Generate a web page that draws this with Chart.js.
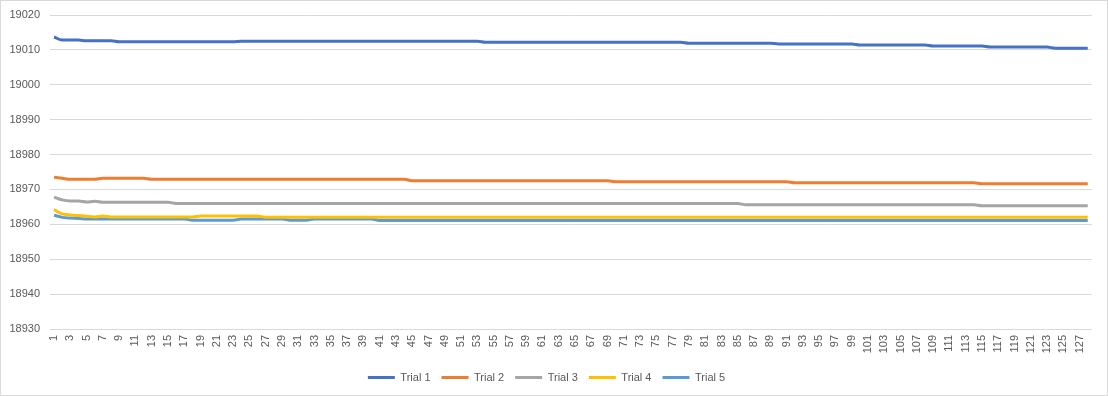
<!DOCTYPE html>
<html>
<head>
<meta charset="utf-8">
<script src="https://cdn.jsdelivr.net/npm/chart.js@4/dist/chart.umd.min.js"></script>
<style>
    html, body { margin: 0; padding: 0; background: #fff; }
    .chart-box { width: 1106px; height: 394px; border: 1px solid #D9D9D9; }
</style>
</head>
<body>
<div class="chart-box"><canvas id="trialChart" width="1106" height="394"></canvas></div>
<script>
"use strict";

// run numbers 1..128 on the x axis
const runs = Array.from({ length: 128 }, (_, i) => String(i + 1));

const trial1 = [
    19013.7, 19012.8, 19012.8, 19012.8, 19012.6, 19012.6, 19012.6, 19012.6, 19012.3, 19012.3, 19012.3, 19012.3, 19012.3, 19012.3, 19012.3, 19012.3,
    19012.3, 19012.3, 19012.3, 19012.3, 19012.3, 19012.3, 19012.3, 19012.5, 19012.5, 19012.5, 19012.5, 19012.5, 19012.5, 19012.5, 19012.5, 19012.5,
    19012.5, 19012.5, 19012.5, 19012.5, 19012.5, 19012.5, 19012.5, 19012.5, 19012.5, 19012.5, 19012.5, 19012.5, 19012.5, 19012.5, 19012.5, 19012.5,
    19012.5, 19012.5, 19012.5, 19012.5, 19012.5, 19012.2, 19012.2, 19012.2, 19012.2, 19012.2, 19012.2, 19012.2, 19012.2, 19012.2, 19012.2, 19012.2,
    19012.2, 19012.2, 19012.2, 19012.2, 19012.2, 19012.2, 19012.2, 19012.2, 19012.2, 19012.2, 19012.2, 19012.2, 19012.2, 19012.2, 19011.9, 19011.9,
    19011.9, 19011.9, 19011.9, 19011.9, 19011.9, 19011.9, 19011.9, 19011.9, 19011.9, 19011.7, 19011.7, 19011.7, 19011.7, 19011.7, 19011.7, 19011.7,
    19011.7, 19011.7, 19011.7, 19011.4, 19011.4, 19011.4, 19011.4, 19011.4, 19011.4, 19011.4, 19011.4, 19011.4, 19011.1, 19011.1, 19011.1, 19011.1,
    19011.1, 19011.1, 19011.1, 19010.8, 19010.8, 19010.8, 19010.8, 19010.8, 19010.8, 19010.8, 19010.8, 19010.5, 19010.5, 19010.5, 19010.5, 19010.5
];

const trial2 = [
    18973.5, 18973.2, 18972.9, 18972.9, 18972.9, 18972.9, 18973.2, 18973.2, 18973.2, 18973.2, 18973.2, 18973.2, 18972.9, 18972.9, 18972.9, 18972.9,
    18972.9, 18972.9, 18972.9, 18972.9, 18972.9, 18972.9, 18972.9, 18972.9, 18972.9, 18972.9, 18972.9, 18972.9, 18972.9, 18972.9, 18972.9, 18972.9,
    18972.9, 18972.9, 18972.9, 18972.9, 18972.9, 18972.9, 18972.9, 18972.9, 18972.9, 18972.9, 18972.9, 18972.9, 18972.5, 18972.5, 18972.5, 18972.5,
    18972.5, 18972.5, 18972.5, 18972.5, 18972.5, 18972.5, 18972.5, 18972.5, 18972.5, 18972.5, 18972.5, 18972.5, 18972.5, 18972.5, 18972.5, 18972.5,
    18972.5, 18972.5, 18972.5, 18972.5, 18972.5, 18972.2, 18972.2, 18972.2, 18972.2, 18972.2, 18972.2, 18972.2, 18972.2, 18972.2, 18972.2, 18972.2,
    18972.2, 18972.2, 18972.2, 18972.2, 18972.2, 18972.2, 18972.2, 18972.2, 18972.2, 18972.2, 18972.2, 18971.9, 18971.9, 18971.9, 18971.9, 18971.9,
    18971.9, 18971.9, 18971.9, 18971.9, 18971.9, 18971.9, 18971.9, 18971.9, 18971.9, 18971.9, 18971.9, 18971.9, 18971.9, 18971.9, 18971.9, 18971.9,
    18971.9, 18971.9, 18971.6, 18971.6, 18971.6, 18971.6, 18971.6, 18971.6, 18971.6, 18971.6, 18971.6, 18971.6, 18971.6, 18971.6, 18971.6, 18971.6
];

const trial3 = [
    18967.8, 18967.0, 18966.7, 18966.7, 18966.4, 18966.6, 18966.3, 18966.3, 18966.3, 18966.3, 18966.3, 18966.3, 18966.3, 18966.3, 18966.3, 18966.0,
    18966.0, 18966.0, 18966.0, 18966.0, 18966.0, 18966.0, 18966.0, 18966.0, 18966.0, 18966.0, 18966.0, 18966.0, 18966.0, 18966.0, 18966.0, 18966.0,
    18966.0, 18966.0, 18966.0, 18966.0, 18966.0, 18966.0, 18966.0, 18966.0, 18966.0, 18966.0, 18966.0, 18966.0, 18966.0, 18966.0, 18966.0, 18966.0,
    18966.0, 18966.0, 18966.0, 18966.0, 18966.0, 18966.0, 18966.0, 18966.0, 18966.0, 18966.0, 18966.0, 18966.0, 18966.0, 18966.0, 18966.0, 18966.0,
    18966.0, 18966.0, 18966.0, 18966.0, 18966.0, 18966.0, 18966.0, 18966.0, 18966.0, 18966.0, 18966.0, 18966.0, 18966.0, 18966.0, 18966.0, 18966.0,
    18966.0, 18966.0, 18966.0, 18966.0, 18966.0, 18965.6, 18965.6, 18965.6, 18965.6, 18965.6, 18965.6, 18965.6, 18965.6, 18965.6, 18965.6, 18965.6,
    18965.6, 18965.6, 18965.6, 18965.6, 18965.6, 18965.6, 18965.6, 18965.6, 18965.6, 18965.6, 18965.6, 18965.6, 18965.6, 18965.6, 18965.6, 18965.6,
    18965.6, 18965.6, 18965.3, 18965.3, 18965.3, 18965.3, 18965.3, 18965.3, 18965.3, 18965.3, 18965.3, 18965.3, 18965.3, 18965.3, 18965.3, 18965.3
];

const trial4 = [
    18964.2, 18963.0, 18962.7, 18962.5, 18962.3, 18962.1, 18962.4, 18962.1, 18962.1, 18962.1, 18962.1, 18962.1, 18962.1, 18962.1, 18962.1, 18962.1,
    18962.1, 18962.1, 18962.4, 18962.4, 18962.4, 18962.4, 18962.4, 18962.4, 18962.4, 18962.4, 18962.0, 18962.0, 18962.0, 18962.0, 18962.0, 18962.0,
    18962.0, 18962.0, 18962.0, 18962.0, 18962.0, 18962.0, 18962.0, 18962.0, 18962.0, 18962.0, 18962.0, 18962.0, 18962.0, 18962.0, 18962.0, 18962.0,
    18962.0, 18962.0, 18962.0, 18962.0, 18962.0, 18962.0, 18962.0, 18962.0, 18962.0, 18962.0, 18962.0, 18962.0, 18962.0, 18962.0, 18962.0, 18962.0,
    18962.0, 18962.0, 18962.0, 18962.0, 18962.0, 18962.0, 18962.0, 18962.0, 18962.0, 18962.0, 18962.0, 18962.0, 18962.0, 18962.0, 18962.0, 18962.0,
    18962.0, 18962.0, 18962.0, 18962.0, 18962.0, 18962.0, 18962.0, 18962.0, 18962.0, 18962.0, 18962.0, 18962.0, 18962.0, 18962.0, 18962.0, 18962.0,
    18962.0, 18962.0, 18962.0, 18962.0, 18962.0, 18962.0, 18962.0, 18962.0, 18962.0, 18962.0, 18962.0, 18962.0, 18962.0, 18962.0, 18962.0, 18962.0,
    18962.0, 18962.0, 18962.0, 18962.0, 18962.0, 18962.0, 18962.0, 18962.0, 18962.0, 18962.0, 18962.0, 18962.0, 18962.0, 18962.0, 18962.0, 18962.0
];

const trial5 = [
    18962.6, 18962.0, 18961.8, 18961.7, 18961.5, 18961.5, 18961.5, 18961.5, 18961.5, 18961.5, 18961.5, 18961.5, 18961.5, 18961.5, 18961.5, 18961.5,
    18961.5, 18961.2, 18961.2, 18961.2, 18961.2, 18961.2, 18961.2, 18961.5, 18961.5, 18961.5, 18961.5, 18961.5, 18961.5, 18961.2, 18961.2, 18961.2,
    18961.5, 18961.5, 18961.5, 18961.5, 18961.5, 18961.5, 18961.5, 18961.5, 18961.1, 18961.1, 18961.1, 18961.1, 18961.1, 18961.1, 18961.1, 18961.1,
    18961.1, 18961.1, 18961.1, 18961.1, 18961.1, 18961.1, 18961.1, 18961.1, 18961.1, 18961.1, 18961.1, 18961.1, 18961.1, 18961.1, 18961.1, 18961.1,
    18961.1, 18961.1, 18961.1, 18961.1, 18961.1, 18961.1, 18961.1, 18961.1, 18961.1, 18961.1, 18961.1, 18961.1, 18961.1, 18961.1, 18961.1, 18961.1,
    18961.1, 18961.1, 18961.1, 18961.1, 18961.1, 18961.1, 18961.1, 18961.1, 18961.1, 18961.1, 18961.1, 18961.1, 18961.1, 18961.1, 18961.1, 18961.1,
    18961.1, 18961.1, 18961.1, 18961.1, 18961.1, 18961.1, 18961.1, 18961.1, 18961.1, 18961.1, 18961.1, 18961.1, 18961.1, 18961.1, 18961.1, 18961.1,
    18961.1, 18961.1, 18961.1, 18961.1, 18961.1, 18961.1, 18961.1, 18961.1, 18961.1, 18961.1, 18961.1, 18961.1, 18961.1, 18961.1, 18961.1, 18961.1
];

const trialNames = ["Trial 1", "Trial 2", "Trial 3", "Trial 4", "Trial 5"];
const trialColors = ["#4472C4", "#ED7D31", "#A5A5A5", "#FFC000", "#5B9BD5"];
const trialData = [trial1, trial2, trial3, trial4, trial5];

const yMin = 18930;
const yMax = 19020;
const yStep = 10;

const textColor = "#595959";
const gridColor = "#D9D9D9";
const fontFamily = "'Liberation Sans', Arial, sans-serif";

let datasets = [];
for (let x = 0; x < trialNames.length; x++) {
    datasets.push({
        label: trialNames[x],
        data: trialData[x],
        borderColor: trialColors[x],
        backgroundColor: trialColors[x],
        borderWidth: 3,
        pointRadius: 0,
        pointHoverRadius: 0,
        tension: 0.4,
        cubicInterpolationMode: "monotone",
        fill: false
    });
}

const ctx = document.getElementById("trialChart").getContext("2d");
const chart = new Chart(ctx, {
    type: "line",
    data: {
        labels: runs,
        datasets: datasets
    },
    options: {
        responsive: false,
        animation: false,
        layout: {
            padding: { top: 14, right: 15, bottom: 2, left: 0 }
        },
        plugins: {
            tooltip: { enabled: false },
            legend: {
                position: "bottom",
                labels: {
                    usePointStyle: true,
                    pointStyle: "line",
                    pointStyleWidth: 27,
                    padding: 11,
                    color: textColor,
                    font: { family: fontFamily, size: 11 }
                }
            }
        },
        scales: {
            x: {
                offset: true,
                grid: { display: false, drawTicks: false },
                border: { display: true, color: gridColor, width: 1 },
                ticks: {
                    autoSkip: false,
                    minRotation: 90,
                    maxRotation: 90,
                    padding: 6,
                    color: textColor,
                    font: { family: fontFamily, size: 11 },
                    callback: function (value, index) {
                        return index % 2 === 0 ? runs[index] : "";
                    }
                },
                afterFit: function (scale) {
                    scale.height = 32;
                }
            },
            y: {
                min: yMin,
                max: yMax,
                grid: { color: gridColor, drawTicks: false },
                border: { display: false },
                ticks: {
                    stepSize: yStep,
                    padding: 10,
                    color: textColor,
                    font: { family: fontFamily, size: 11 },
                    callback: function (value) {
                        return String(value);
                    }
                },
                afterFit: function (scale) {
                    scale.width = 49;
                    // keep the plot top/bottom pinned to the layout padding
                    scale.paddingTop = 0;
                    scale.paddingBottom = 0;
                }
            }
        }
    }
});
</script>
</body>
</html>
